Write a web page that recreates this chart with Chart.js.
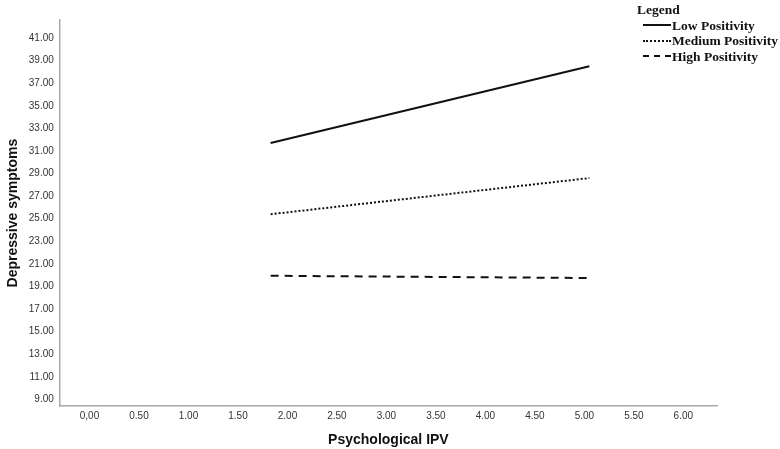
<!DOCTYPE html>
<html>
<head>
<meta charset="utf-8">
<script src="https://cdn.jsdelivr.net/npm/chart.js@4"></script>
<style>
  body { margin: 0; background: #fff; }
  #wrap { position: relative; width: 780px; height: 449px; }
  #legend { position: absolute; left: 640px; top: 2px; font-family: "Liberation Serif", serif; font-weight: bold; font-size: 13.5px; color: #111; line-height: 15.5px; white-space: nowrap; }
  #legend .row { display: flex; align-items: center; margin-left: 3px; }
  #legend .ln { width: 28px; height: 0; margin-right: 1px; }
</style>
</head>
<body>
<div id="wrap">
  <canvas id="chart" width="780" height="449"></canvas>
  <div id="legend">
    <div style="margin-left:-3px">Legend</div>
    <div class="row"><span class="ln" style="border-top:2px solid #111"></span>Low Positivity</div>
    <div class="row"><span class="ln" style="border-top:2px dotted #111"></span>Medium Positivity</div>
    <div class="row"><span class="ln" style="border-top:2px dashed #111;"></span>High Positivity</div>
  </div>
</div>
<script>
const ipvRange = [1.83, 5.05];
const lowPositivity = [31.7, 38.5];
const mediumPositivity = [25.4, 28.6];
const highPositivity = [19.95, 19.75];
const xTicks = [0, 0.5, 1, 1.5, 2, 2.5, 3, 3.5, 4, 4.5, 5, 5.5, 6];
const yTicks = [9, 11, 13, 15, 17, 19, 21, 23, 25, 27, 29, 31, 33, 35, 37, 39, 41];

const toPoints = (ys) => ipvRange.map((x, i) => ({ x: x, y: ys[i] }));

const ctx = document.getElementById('chart').getContext('2d');
const chart = new Chart(ctx, {
  type: 'line',
  data: {
    datasets: [
      { label: 'Low Positivity', data: toPoints(lowPositivity), borderColor: '#111', borderWidth: 2 },
      { label: 'Medium Positivity', data: toPoints(mediumPositivity), borderColor: '#111', borderWidth: 2, borderDash: [2, 2] },
      { label: 'High Positivity', data: toPoints(highPositivity), borderColor: '#111', borderWidth: 2, borderDash: [8, 6] },
    ],
  },
  options: {
    responsive: false,
    animation: false,
    elements: { point: { radius: 0 } },
    layout: { padding: { top: 20, right: 63, left: 5, bottom: 0 } },
    plugins: { legend: { display: false }, tooltip: { enabled: false } },
    scales: {
      x: {
        type: 'linear', min: -0.3, max: 6.34,
        afterBuildTicks: (axis) => { axis.ticks = xTicks.map(v => ({ value: v })); },
        ticks: {
          color: '#333', font: { family: 'Liberation Sans', size: 10 }, padding: 4,
          callback: (v) => v === 0 ? '0,00' : v.toFixed(2),
        },
        grid: { display: false, drawTicks: false },
        border: { color: '#aaa', width: 1.5 },
        title: { display: true, text: 'Psychological IPV', color: '#111', font: { family: 'Liberation Sans', size: 14, weight: 'bold' }, padding: { top: 6, bottom: 0 } },
      },
      y: {
        type: 'linear', min: 8.4, max: 42.6,
        afterBuildTicks: (axis) => { axis.ticks = yTicks.map(v => ({ value: v })); },
        ticks: {
          color: '#333', font: { family: 'Liberation Sans', size: 10 }, padding: 6,
          callback: (v) => v.toFixed(2),
        },
        grid: { display: false, drawTicks: false },
        border: { color: '#aaa', width: 1.5 },
        title: { display: true, text: 'Depressive symptoms', color: '#111', font: { family: 'Liberation Sans', size: 14, weight: 'bold' }, padding: { top: 0, bottom: 1 } },
      },
    },
  },
});
</script>
</body>
</html>
